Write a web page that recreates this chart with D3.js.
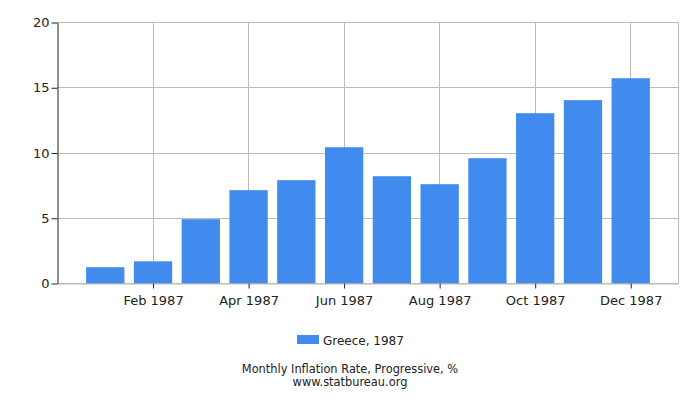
<!DOCTYPE html>
<html>
<head>
<meta charset="utf-8">
<script src="https://cdn.jsdelivr.net/npm/d3@7"></script>
<style>
  body { margin: 0; background: #fff; }
  text { font-family: "DejaVu Sans", sans-serif; fill: #222; }
</style>
</head>
<body>
<div id="chart"></div>
<script>
// monthly values
const months = ["Jan 1987", "Feb 1987", "Mar 1987", "Apr 1987", "May 1987", "Jun 1987",
                "Jul 1987", "Aug 1987", "Sep 1987", "Oct 1987", "Nov 1987", "Dec 1987"]
const values = [1.25, 1.7, 4.93, 7.15, 7.92, 10.44, 8.22, 7.61, 9.6, 13.05, 14.05, 15.73]
const yTicks = [0, 5, 10, 15, 20]
const xTickIdx = [2, 4, 6, 8, 10, 12]
const seriesName = "Greece, 1987"

const dims = { top: 22.5, left: 57.5, width: 621, height: 261 }
const barColor = "#418bef"

const svg = d3.select("#chart").append("svg")
    .attr("width", 700).attr("height", 400)

const g = svg.append("g")
    .attr("transform", "translate(" + dims.left + "," + dims.top + ")")

const x = d3.scaleLinear().domain([0, 13]).range([0, dims.width])
const y = d3.scaleLinear().domain([0, 20]).range([dims.height, 0])

// grid
g.selectAll(".hgrid").data(yTicks).join("line")
    .attr("x1", 0).attr("x2", dims.width)
    .attr("y1", d => Math.round(y(d))).attr("y2", d => Math.round(y(d)))
    .attr("stroke", "#bbb")

g.selectAll(".vgrid").data(xTickIdx).join("line")
    .attr("x1", d => Math.round(x(d))).attr("x2", d => Math.round(x(d)))
    .attr("y1", 0).attr("y2", dims.height)
    .attr("stroke", "#bbb")

// right border
g.append("line")
    .attr("x1", dims.width).attr("x2", dims.width)
    .attr("y1", 0).attr("y2", dims.height)
    .attr("stroke", "#bbb")

// bars
const barW = 38.3
g.selectAll(".bar").data(values).join("rect")
    .attr("x", (d, i) => x(i + 1) - barW / 2)
    .attr("y", d => y(d))
    .attr("width", barW)
    .attr("height", d => y(0) - y(d))
    .attr("fill", barColor)

// x axis
const xAxis = g.append("g")
    .attr("transform", "translate(0," + dims.height + ")")
    .call(d3.axisBottom(x).tickValues(xTickIdx).tickSize(5).tickSizeOuter(0)
        .tickFormat(d => months[d - 1]))
xAxis.select(".domain").attr("stroke", "#bbb")
xAxis.selectAll(".tick line").attr("stroke", "#222")
xAxis.selectAll("text").style("font-size", "13px").attr("dy", "1.05em").attr("fill", "#222")

// y axis
const yAxis = g.append("g")
    .call(d3.axisLeft(y).tickValues(yTicks).tickSize(6).tickSizeOuter(0))
yAxis.select(".domain").attr("stroke", "#222")
yAxis.selectAll(".tick line").attr("stroke", "#222")
yAxis.selectAll("text").style("font-size", "13px").attr("x", -8).attr("fill", "#222")

// legend
const legend = svg.append("g").attr("transform", "translate(297,335)")
legend.append("rect").attr("width", 22).attr("height", 9).attr("fill", barColor)
legend.append("text").attr("x", 26).attr("y", 9.5)
    .style("font-size", "12px").text(seriesName)

// titles
svg.append("text").attr("x", 350).attr("y", 372.5)
    .attr("text-anchor", "middle").style("font-size", "11.4px")
    .text("Monthly Inflation Rate, Progressive, %")
svg.append("text").attr("x", 350).attr("y", 386)
    .attr("text-anchor", "middle").style("font-size", "11.4px")
    .text("www.statbureau.org")
</script>
</body>
</html>
